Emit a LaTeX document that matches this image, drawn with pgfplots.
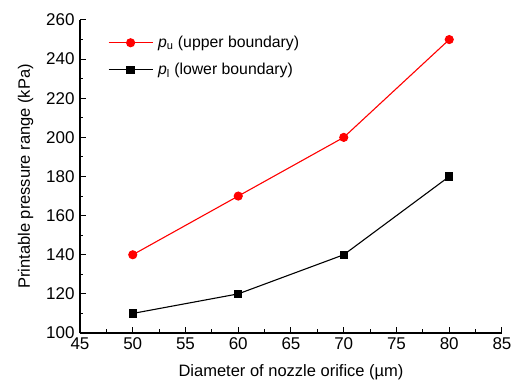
\documentclass[border=0pt]{standalone}
\usepackage{fontspec}
\setmainfont{Liberation Sans}
\usepackage{pgfplots}
\pgfplotsset{compat=1.18}
\begin{document}
\begin{tikzpicture}
\useasboundingbox (-80pt,-50pt) rectangle (437pt,333pt);
\begin{axis}[
  at={(0pt,0pt)}, anchor=south west,
  scale only axis,
  width=422pt, height=313pt,
  xmin=45, xmax=85, ymin=100, ymax=260,
  axis x line*=bottom, axis y line*=left,
  xtick={45,50,...,85}, ytick={100,120,...,260},
  minor x tick num=1, minor y tick num=1,
  tick align=inside,
  major tick length=6pt, minor tick length=3.5pt,
  tick style={black, line width=1pt},
  axis line style={line width=1.2pt},
  /pgf/number format/assume math mode=true,
  ticklabel style={font=\fontsize{17}{20}\selectfont},
  xticklabel style={yshift=-1pt},
  yticklabel style={xshift=-2pt},
  xlabel={Diameter of nozzle orifice (µm)},
  ylabel={Printable pressure range (kPa)},
  label style={font=\fontsize{16.5}{19}\selectfont},
  xlabel style={yshift=-8pt},
  ylabel style={yshift=6pt},
  legend style={draw=none, fill=none, inner sep=0pt,
    at={(axis description cs:0.066,0.955)}, anchor=north west,
    font=\fontsize{15.8}{18}\selectfont, row sep=10pt,
    nodes={inner xsep=5pt}},
  legend cell align=left,
  legend image code/.code={
    \draw[mark repeat=2, mark phase=2] plot coordinates {(0pt,0pt) (22pt,0pt) (44pt,0pt)};
  },
]
\addplot[red, line width=1.1pt, mark=*, mark size=4pt] coordinates {
  (50,140) (60,170) (70,200) (80,250)};
\addlegendentry{\textit{p}\textsubscript{u} (upper boundary)}
\addplot[black, line width=1.1pt, mark=square*, mark size=3.6pt] coordinates {
  (50,110) (60,120) (70,140) (80,180)};
\addlegendentry{\textit{p}\textsubscript{l} (lower boundary)}
\end{axis}
\end{tikzpicture}
\end{document}
